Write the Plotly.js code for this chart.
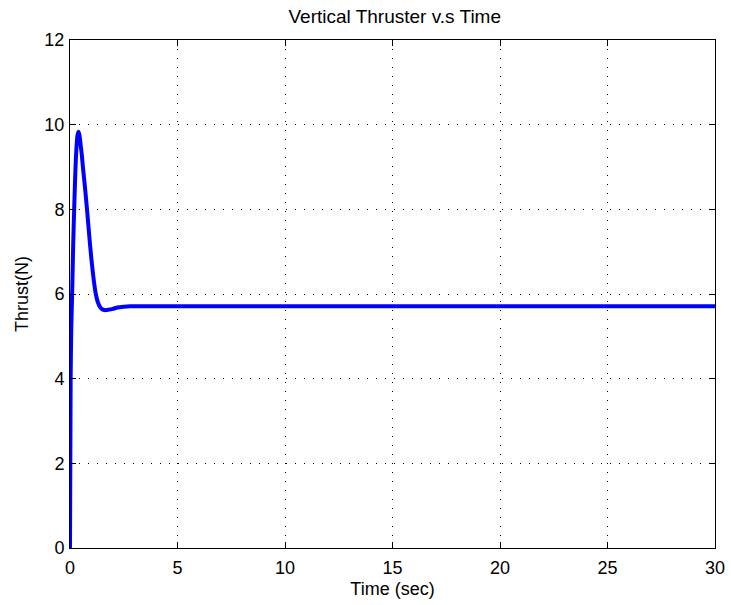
<!DOCTYPE html>
<html>
<head>
<meta charset="utf-8">
<script src="https://cdn.plot.ly/plotly-3.0.1.min.js"></script>
<style>html,body{margin:0;padding:0;background:#fff;}#plot{width:731px;height:605px;}</style>
</head>
<body>
<div id="plot"></div>
<script>
const timeSec = [0, 0.03, 0.06, 0.1, 0.15, 0.2, 0.25, 0.3, 0.35, 0.4, 0.45, 0.5, 0.55, 0.6, 0.7, 0.8, 0.9, 1.0, 1.1, 1.2, 1.3, 1.4, 1.5, 1.6, 1.7, 1.8, 2.0, 2.2, 2.5, 2.8, 3.2, 30];
const thrustN = [0, 4.0, 5.2, 6.0, 7.2, 8.1, 8.9, 9.45, 9.75, 9.83, 9.72, 9.5, 9.28, 9.0, 8.5, 7.95, 7.35, 6.8, 6.35, 6.0, 5.8, 5.69, 5.64, 5.62, 5.62, 5.63, 5.65, 5.68, 5.70, 5.71, 5.71, 5.71];
const xTicks = [0, 5, 10, 15, 20, 25, 30];
const yTicks = [0, 2, 4, 6, 8, 10, 12];

const fontFam = 'Liberation Sans, Arial, sans-serif';
const axisCommon = {
  showline: true, linecolor: '#000', linewidth: 1, mirror: 'ticks',
  ticks: 'inside', ticklen: 6, tickcolor: '#000', tickwidth: 1,
  showgrid: true, gridcolor: '#000', gridwidth: 1, griddash: '1px,8px',
  zeroline: false, tickfont: {family: fontFam, size: 18, color: '#000'}
};
const trace = {
  x: timeSec, y: thrustN, type: 'scatter', mode: 'lines',
  line: {color: '#0000ff', width: 4, shape: 'spline', smoothing: 0.6},
  hoverinfo: 'skip'
};
const layout = {
  width: 731, height: 605,
  margin: {l: 70, r: 16, t: 40, b: 57},
  paper_bgcolor: '#fff', plot_bgcolor: '#fff',
  showlegend: false,
  title: {text: 'Vertical Thruster v.s Time', font: {family: fontFam, size: 19, color: '#000'}, x: 0.54, xanchor: 'center', y: 0.973, yanchor: 'middle'},
  xaxis: Object.assign({}, axisCommon, {
    range: [0, 30], tickvals: xTicks, ticktext: xTicks.map(String), ticklabelstandoff: 3,
    title: {text: 'Time (sec)', font: {family: fontFam, size: 18, color: '#000'}, standoff: 5}
  }),
  yaxis: Object.assign({}, axisCommon, {
    range: [0, 12], tickvals: yTicks, ticktext: yTicks.map(String), ticklabelstandoff: 1,
    title: {text: 'Thrust(N)', font: {family: fontFam, size: 18, color: '#000'}, standoff: 11}
  })
};
Plotly.newPlot('plot', [trace], layout, {staticPlot: true, displayModeBar: false});
</script>
</body>
</html>
